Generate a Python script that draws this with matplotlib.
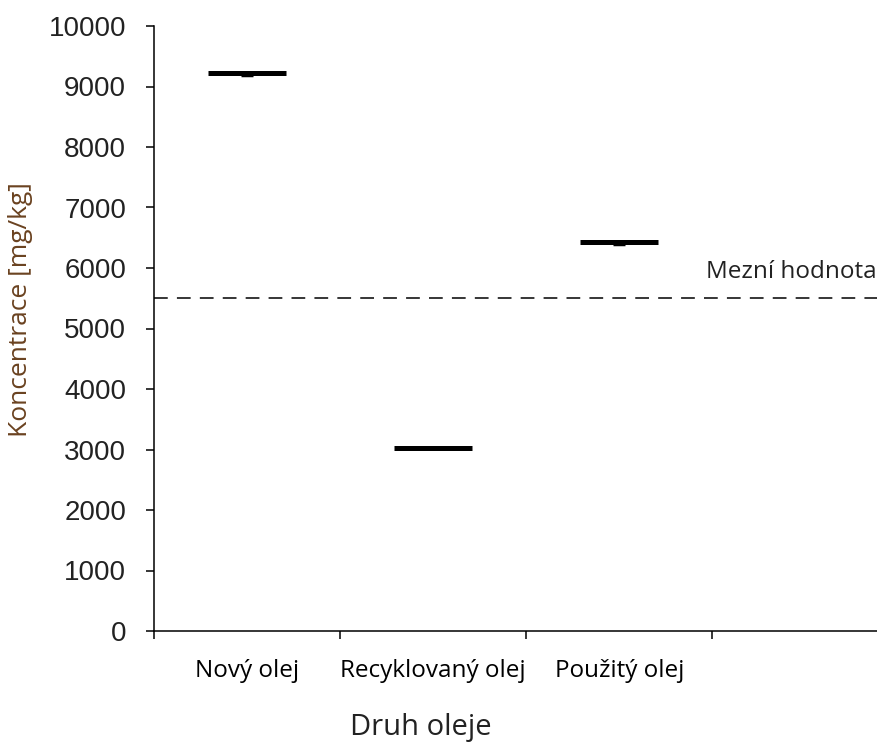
import numpy as np
from matplotlib import pyplot as plot

# data
categories = ["Nový olej", "Recyklovaný olej", "Použitý olej"]
values = [9225, 3025, 6425]
errLow = [40, 0, 35]
limit = 5500
limitLabel = "Mezní hodnota"
yTicks = [0, 1000, 2000, 3000, 4000, 5000, 6000, 7000, 8000, 9000, 10000]

fig = plot.figure(figsize=(8.78, 7.45), dpi=100)
ax = fig.add_axes([154/878, 114/745, 1 - 154/878, (631 - 26)/745])

pos = np.arange(len(categories)) + 0.5
halfW = 0.21

# short horizontal marks
ax.hlines(values, pos - halfW, pos + halfW, colors='black', linewidth=3.6,
          capstyle='butt', zorder=3)
ax.errorbar(pos, values, yerr=[errLow, [0]*len(values)], fmt='none',
            ecolor='black', elinewidth=0, capsize=4.5, capthick=2.5, zorder=3)

# limit line
ax.axhline(limit, color='black', linewidth=1.1, linestyle=(0, (9, 6)))
ax.text(3.88, limit + 230, limitLabel, ha='right', va='bottom',
        fontsize=17.5, family='Open Sans', color='#222222')

ax.set_xlim(0, 3.89)
ax.set_ylim(0, 10000)
ax.set_yticks(yTicks)
ax.set_yticklabels([str(t) for t in yTicks], fontsize=20, family='Liberation Sans',
                   color='#222222')
ax.tick_params(axis='y', direction='out', length=6, width=1.1, pad=14)

ax.set_xticks([0, 1, 2, 3])
ax.set_xticklabels([])
ax.tick_params(axis='x', which='major', direction='out', length=6, width=1.1)
ax.set_xticks(pos, minor=True)
ax.set_xticklabels(categories, minor=True, fontsize=17.5, family='Open Sans')
ax.tick_params(axis='x', which='minor', length=0, pad=20)

for s in ('top', 'right'):
  ax.spines[s].set_visible(False)
for s in ('left', 'bottom'):
  ax.spines[s].set_linewidth(1.1)

fig.text(21/878, 1 - 310/745, "Koncentrace [mg/kg]", rotation=90, ha='center',
         va='center', fontsize=19, family='Open Sans', color='#6a4220')
fig.text(421/878, 1 - 728/745, "Druh oleje", ha='center', va='center',
         fontsize=21, family='Open Sans', color='#222222')

fig.savefig('out.png', dpi=100)
